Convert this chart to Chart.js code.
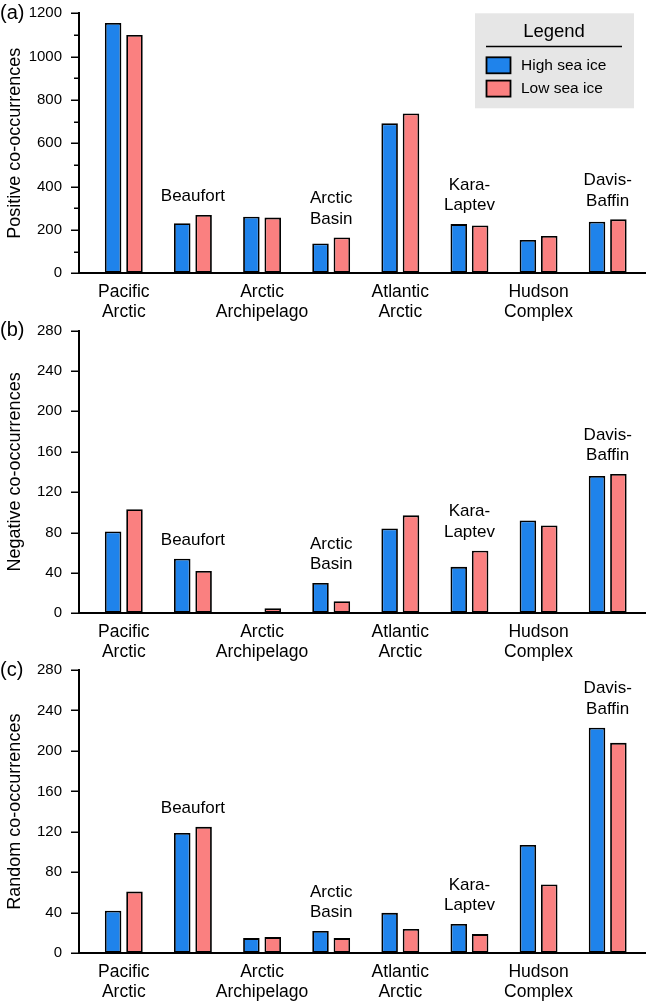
<!DOCTYPE html>
<html>
<head>
<meta charset="utf-8">
<script src="https://cdn.jsdelivr.net/npm/chart.js@4.4.1/dist/chart.umd.min.js"></script>
<style>
  html, body { margin: 0; padding: 0; background: #fff; }
  #wrap { position: relative; width: 646px; height: 1005px; overflow: hidden; }
  canvas { position: absolute; left: 0; }
</style>
</head>
<body>
<div id="wrap">
  <canvas id="chartA" width="646" height="330" style="top:0px"></canvas>
  <canvas id="chartB" width="646" height="353" style="top:317px"></canvas>
  <canvas id="chartC" width="646" height="348" style="top:657px"></canvas>
</div>
<script>
// regions (even ones labelled under the axis, odd ones above their bars)
const regionNames = [
    ['Pacific', 'Arctic'], ['Beaufort'], ['Arctic', 'Archipelago'], ['Arctic', 'Basin'],
    ['Atlantic', 'Arctic'], ['Kara-', 'Laptev'], ['Hudson', 'Complex'], ['Davis-', 'Baffin']
];
const seriesNames = ['High sea ice', 'Low sea ice'];

// (a) positive co-occurrences
const positiveHigh = [1155, 231, 261, 138, 692, 227, 154, 238];
const positiveLow = [1100, 269, 257, 165, 738, 221, 172, 249];
// (b) negative co-occurrences
const negativeHigh = [81, 54, 0, 30, 84, 46, 92, 136];
const negativeLow = [103, 42, 5, 12, 97, 62, 87, 138];
// (c) random co-occurrences
const randomHigh = [42, 119, 15, 22, 40, 29, 107, 223];
const randomLow = [61, 125, 16, 15, 24, 19, 68, 208];

// y axes: [max, minor step, labelled step]
const positiveAxis = [1200, 100, 200];
const negativeAxis = [280, 20, 40];
const randomAxis = [280, 20, 40];

const FONT = "'Liberation Sans', Arial, Helvetica, sans-serif";
const blueColor = 'rgb(31, 131, 235)';
const redColor = 'rgb(250, 128, 128)';

Chart.defaults.font.family = FONT;
Chart.defaults.color = '#000';

const panelDeco = {
    id: 'panelDeco',
    afterDraw(chart, args, opts) {
        const ctx = chart.ctx;
        const xs = chart.scales.x;
        const ys = chart.scales.y;
        const area = chart.chartArea;
        ctx.save();

        // y tick marks: long on labelled values, short in between
        ctx.strokeStyle = '#000';
        ctx.lineWidth = 1.5;
        ys.ticks.forEach(t => {
            const len = t.value % opts.major === 0 ? 8 : 5;
            const py = Math.round(ys.getPixelForValue(t.value)) + 0.25;
            ctx.beginPath();
            ctx.moveTo(area.left - len, py);
            ctx.lineTo(area.left, py);
            ctx.stroke();
        });

        // panel letter
        ctx.fillStyle = '#000';
        ctx.font = '20px ' + FONT;
        ctx.textAlign = 'left';
        ctx.textBaseline = 'middle';
        ctx.fillText(opts.tag, 0, area.top);

        // region names above the bars
        const ds = chart.data.datasets;
        ctx.font = '17px ' + FONT;
        ctx.textAlign = 'center';
        regionNames.forEach((lines, i) => {
            if (i % 2 === 0) return;
            const top = Math.max(...ds.map(d => d.data[i].y));
            const base = ys.getPixelForValue(top) - 18.5;
            const px = xs.getPixelForValue(i);
            lines.forEach((s, k) => ctx.fillText(s, px, base - (lines.length - 1 - k) * 20.5));
        });

        if (opts.legend) {
            const bx = area.right - 171, by = area.top;
            ctx.fillStyle = '#e6e6e6';
            ctx.fillRect(bx, by, 159, 95);
            ctx.fillStyle = '#000';
            ctx.font = '18.5px ' + FONT;
            ctx.textAlign = 'center';
            ctx.fillText('Legend', bx + 79, by + 18.5);
            ctx.beginPath();
            ctx.moveTo(bx + 11, by + 33.3);
            ctx.lineTo(bx + 147, by + 33.3);
            ctx.stroke();
            ctx.font = '15.5px ' + FONT;
            ctx.textAlign = 'left';
            ctx.lineWidth = 1.8;
            ds.forEach((d, k) => {
                const sy = by + 44 + k * 23.3;
                ctx.fillStyle = d.backgroundColor;
                ctx.fillRect(bx + 11.5, sy, 24, 16);
                ctx.strokeRect(bx + 11.5, sy, 24, 16);
                ctx.fillStyle = '#000';
                ctx.fillText(d.label, bx + 46, sy + 8.5);
            });
        }
        ctx.restore();
    }
};

function makePanel(id, tag, title, high, low, axis, padTop, xHeight, legend) {
    const ctx = document.getElementById(id).getContext('2d');
    const toPoints = arr => arr.map((v, i) => ({ x: i, y: v }));
    return new Chart(ctx, {
        type: 'bar',
        data: {
            datasets: [
                { label: seriesNames[0], data: toPoints(high), backgroundColor: blueColor },
                { label: seriesNames[1], data: toPoints(low), backgroundColor: redColor }
            ]
        },
        options: {
            responsive: false,
            animation: false,
            layout: { padding: { top: padTop, left: 0, right: 0, bottom: 0 } },
            datasets: {
                bar: {
                    borderColor: '#000',
                    borderWidth: 1.8,
                    borderSkipped: false,
                    categoryPercentage: 0.618,
                    barPercentage: 0.773
                }
            },
            plugins: {
                legend: { display: false },
                tooltip: { enabled: false },
                panelDeco: { tag: tag, major: axis[2], legend: legend }
            },
            scales: {
                x: {
                    type: 'linear',
                    offset: false,
                    min: -0.648,
                    max: 7.554,
                    grid: { display: false, drawTicks: false, offset: false },
                    border: { display: true, color: '#000', width: 2 },
                    afterBuildTicks: s => { s.ticks = [0, 2, 4, 6].map(v => ({ value: v })); },
                    afterFit: s => { s.height = xHeight; },
                    ticks: {
                        autoSkip: false,
                        maxRotation: 0,
                        padding: 8.5,
                        font: { size: 17.5, lineHeight: 20 / 17.5 },
                        callback: v => regionNames[v]
                    }
                },
                y: {
                    min: 0,
                    max: axis[0],
                    grid: {
                        display: true,
                        drawOnChartArea: false,
                        drawTicks: true,
                        tickLength: 17,
                        tickColor: 'rgba(0,0,0,0)'
                    },
                    border: { display: true, color: '#000', width: 2 },
                    afterFit: s => { s.width = 79; },
                    ticks: {
                        stepSize: axis[1],
                        padding: 0,
                        font: { size: 15 },
                        callback: v => (v % axis[2] === 0 ? String(v) : '')
                    },
                    title: {
                        display: true,
                        text: title,
                        font: { size: 18 },
                        padding: { top: 4, bottom: 0 }
                    }
                }
            }
        },
        plugins: [panelDeco]
    });
}

makePanel('chartA', '(a)', 'Positive co-occurrences', positiveHigh, positiveLow, positiveAxis, 13.3, 56.7, true);
makePanel('chartB', '(b)', 'Negative co-occurrences', negativeHigh, negativeLow, negativeAxis, 13.5, 56.7, false);
makePanel('chartC', '(c)', 'Random co-occurrences', randomHigh, randomLow, randomAxis, 13, 51.7, false);
</script>
</body>
</html>
